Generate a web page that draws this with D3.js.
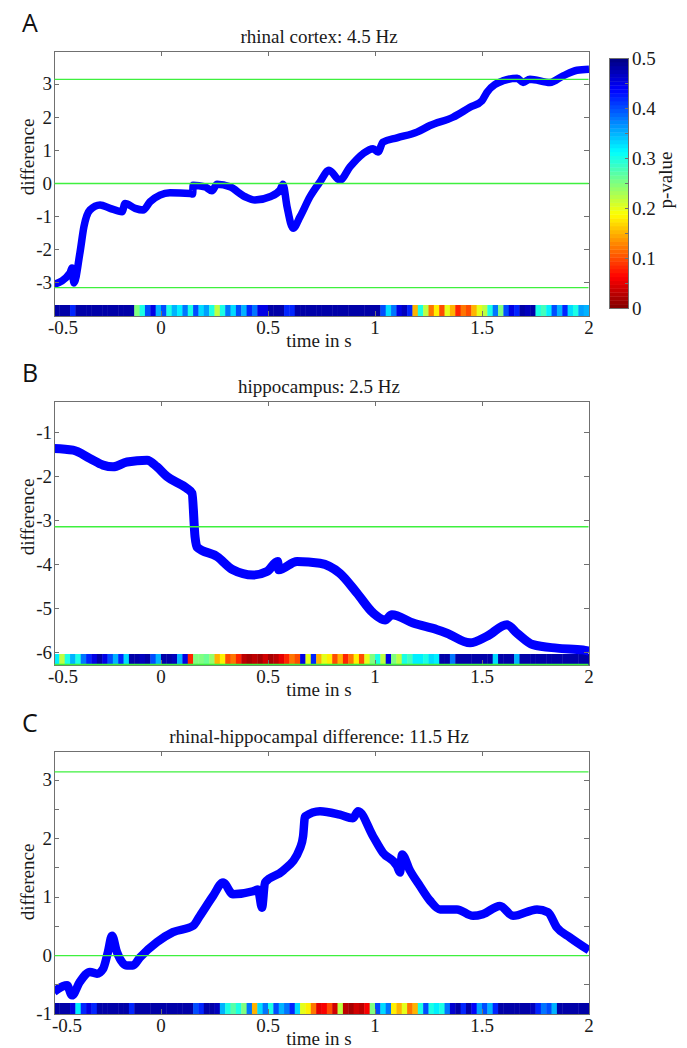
<!DOCTYPE html>
<html>
<head>
<meta charset="utf-8">
<script src="https://cdn.jsdelivr.net/npm/d3@7"></script>
<style>
  body { margin: 0; background: #fff; }
  svg { display: block; font-family: "Liberation Serif", "Times New Roman", serif; }
  .frame { fill: none; stroke: #707070; stroke-width: 1; shape-rendering: crispEdges; }
  .tick { stroke: #707070; stroke-width: 1; shape-rendering: crispEdges; }
  .ref-line { stroke: #3ef03e; stroke-width: 1.3; }
  .trace { fill: none; stroke: #0000ff; stroke-linejoin: round; stroke-linecap: butt; }
  .label { font-size: 19px; fill: #1a1a1a; }
  .letter { font-family: "Open Sans", "Liberation Sans", sans-serif; font-size: 25px; fill: #111; }
</style>
</head>
<body>
<div id="chart"></div>
<script>
// shared axis values
const xTicks = [-0.5, 0, 0.5, 1, 1.5, 2];
const binWidth = 0.025; // width of one p-value bin in s
const pMax = 0.5;
const cbTicks = [0, 0.1, 0.2, 0.3, 0.4, 0.5];

// A: rhinal cortex 4.5 Hz
const timesA = [-0.5, -0.425, -0.416, -0.407, -0.379, -0.36, -0.332, -0.285, -0.238, -0.182,
  -0.168, -0.121, -0.084, -0.051, -0.005, 0.042, 0.136, 0.148, 0.15, 0.206,
  0.238, 0.262, 0.322, 0.393, 0.439, 0.509, 0.556, 0.57, 0.589, 0.617,
  0.65, 0.696, 0.743, 0.785, 0.836, 0.883, 0.944, 0.991, 1.014, 1.037,
  1.103, 1.196, 1.257, 1.364, 1.444, 1.5, 1.523, 1.598, 1.664, 1.692,
  1.724, 1.818, 1.879, 1.944, 2.0];
const diffA = [-3.05, -2.7, -2.55, -3.0, -2.1, -1.3, -0.8, -0.65, -0.75, -0.85,
  -0.6, -0.75, -0.8, -0.55, -0.35, -0.28, -0.3, -0.32, -0.05, -0.1,
  -0.22, -0.02, -0.1, -0.4, -0.5, -0.4, -0.2, -0.02, -0.7, -1.35,
  -1.0, -0.4, 0.05, 0.4, 0.1, 0.5, 0.9, 1.05, 0.95, 1.25,
  1.38, 1.55, 1.75, 2.0, 2.3, 2.5, 2.75, 3.1, 3.18, 3.05,
  3.15, 3.05, 3.25, 3.42, 3.45];
const pA = [0.48, 0.48, 0.48, 0.42, 0.48, 0.48, 0.48, 0.48, 0.48, 0.48,
  0.48, 0.48, 0.48, 0.48, 0.48, 0.25, 0.3, 0.4, 0.45, 0.35,
  0.4, 0.3, 0.35, 0.32, 0.38, 0.3, 0.4, 0.33, 0.36, 0.3,
  0.22, 0.3, 0.38, 0.33, 0.4, 0.35, 0.42, 0.38, 0.45, 0.45,
  0.48, 0.48, 0.48, 0.42, 0.42, 0.48, 0.48, 0.48, 0.48, 0.48,
  0.48, 0.48, 0.48, 0.48, 0.48, 0.48, 0.48, 0.48, 0.48, 0.48,
  0.48, 0.4, 0.33, 0.38, 0.45, 0.47, 0.42, 0.15, 0.3, 0.22,
  0.12, 0.18, 0.1, 0.2, 0.15, 0.08, 0.12, 0.1, 0.15, 0.2,
  0.22, 0.3, 0.38, 0.25, 0.4, 0.45, 0.42, 0.48, 0.47, 0.48,
  0.3, 0.28, 0.32, 0.4, 0.35, 0.42, 0.33, 0.3, 0.36, 0.35];

// B: hippocampus 2.5 Hz
const timesB = [-0.5, -0.411, -0.332, -0.271, -0.224, -0.159, -0.065, -0.019, 0.028, 0.121,
  0.145, 0.159, 0.168, 0.262, 0.336, 0.43, 0.495, 0.545, 0.55, 0.636,
  0.743, 0.836, 0.916, 0.991, 1.047, 1.079, 1.178, 1.29, 1.336, 1.444,
  1.523, 1.617, 1.664, 1.738, 1.85, 1.972, 2.0];
const diffB = [-1.36, -1.4, -1.59, -1.74, -1.78, -1.67, -1.63, -1.78, -2.0, -2.27,
  -2.38, -3.37, -3.6, -3.82, -4.12, -4.24, -4.16, -3.93, -4.12, -3.93,
  -3.97, -4.2, -4.65, -5.1, -5.26, -5.14, -5.33, -5.48, -5.56, -5.78,
  -5.63, -5.37, -5.56, -5.82, -5.9, -5.94, -5.97];
const pB = [0.32, 0.22, 0.3, 0.35, 0.3, 0.38, 0.42, 0.45, 0.48, 0.45,
  0.4, 0.35, 0.42, 0.33, 0.48, 0.48, 0.47, 0.48, 0.4, 0.35,
  0.48, 0.48, 0.47, 0.35, 0.45, 0.08, 0.25, 0.25, 0.26, 0.24,
  0.15, 0.18, 0.1, 0.12, 0.08, 0.03, 0.02, 0.03, 0.02, 0.04,
  0.02, 0.03, 0.05, 0.08, 0.12, 0.1, 0.45, 0.2, 0.42, 0.15,
  0.2, 0.18, 0.1, 0.15, 0.08, 0.12, 0.18, 0.1, 0.2, 0.25,
  0.3, 0.22, 0.45, 0.25, 0.22, 0.3, 0.28, 0.32, 0.32, 0.3,
  0.33, 0.32, 0.48, 0.48, 0.38, 0.48, 0.48, 0.48, 0.48, 0.48,
  0.48, 0.48, 0.33, 0.48, 0.48, 0.48, 0.35, 0.48, 0.48, 0.48,
  0.48, 0.48, 0.48, 0.48, 0.48, 0.48, 0.48, 0.48, 0.48, 0.48];

// C: rhinal-hippocampal difference 11.5 Hz
const timesC = [-0.5, -0.439, -0.416, -0.379, -0.332, -0.299, -0.271, -0.248, -0.229, -0.206,
  -0.159, -0.131, -0.098, -0.019, 0.056, 0.15, 0.182, 0.243, 0.29, 0.336,
  0.43, 0.453, 0.472, 0.486, 0.57, 0.65, 0.664, 0.673, 0.743, 0.836,
  0.897, 0.921, 0.991, 1.037, 1.103, 1.117, 1.126, 1.164, 1.21, 1.257,
  1.304, 1.383, 1.458, 1.505, 1.584, 1.645, 1.757, 1.808, 1.85, 1.911, 2.0];
const diffC = [-0.62, -0.51, -0.68, -0.45, -0.28, -0.31, -0.23, 0.06, 0.34, 0.06,
  -0.17, -0.17, -0.03, 0.23, 0.4, 0.51, 0.68, 1.02, 1.25, 1.05,
  1.1, 1.13, 0.82, 1.25, 1.45, 1.84, 2.04, 2.38, 2.47, 2.41,
  2.35, 2.47, 2.04, 1.76, 1.53, 1.42, 1.73, 1.45, 1.19, 0.94,
  0.79, 0.79, 0.68, 0.71, 0.85, 0.68, 0.79, 0.74, 0.48, 0.31, 0.09];
const pC = [0.48, 0.48, 0.48, 0.45, 0.32, 0.42, 0.45, 0.42, 0.48, 0.48,
  0.48, 0.48, 0.48, 0.48, 0.42, 0.48, 0.48, 0.48, 0.48, 0.48,
  0.48, 0.48, 0.48, 0.48, 0.48, 0.48, 0.4, 0.42, 0.48, 0.48,
  0.47, 0.35, 0.3, 0.27, 0.3, 0.25, 0.38, 0.15, 0.33, 0.38,
  0.3, 0.4, 0.35, 0.38, 0.42, 0.33, 0.2, 0.18, 0.12, 0.05,
  0.06, 0.1, 0.04, 0.22, 0.03, 0.02, 0.04, 0.03, 0.06, 0.25,
  0.4, 0.33, 0.38, 0.18, 0.15, 0.2, 0.12, 0.15, 0.3, 0.4,
  0.3, 0.32, 0.3, 0.38, 0.46, 0.48, 0.42, 0.48, 0.44, 0.36,
  0.4, 0.35, 0.42, 0.48, 0.48, 0.48, 0.48, 0.48, 0.48, 0.47,
  0.42, 0.38, 0.4, 0.35, 0.48, 0.48, 0.48, 0.48, 0.48, 0.48];

const panels = [
  { letter: "A", title: "rhinal cortex: 4.5 Hz", times: timesA, diff: diffA, p: pA,
    yDomain: [-4, 4], yTicks: [-3, -2, -1, 0, 1, 2, 3], yLabeled: [-3, -2, -1, 0, 1, 2, 3],
    top: 51, bottom: 316, labelY: 157, band: 7.5, firstShift: 9 },
  { letter: "B", title: "hippocampus: 2.5 Hz", times: timesB, diff: diffB, p: pB,
    yDomain: [-2 * Math.PI, -2 * Math.PI + 6], yTicks: [-6, -5, -4, -3, -2, -1], yLabeled: [-6, -5, -4, -3, -2, -1],
    top: 401, bottom: 665, labelY: 517, band: 9, firstShift: 9 },
  { letter: "C", title: "rhinal-hippocampal difference: 11.5 Hz", times: timesC, diff: diffC, p: pC,
    yDomain: [-1, 3.5], yTicks: [-1, -0.5, 0, 0.5, 1, 1.5, 2, 2.5, 3, 3.5], yLabeled: [-1, 0, 1, 2, 3],
    top: 751, bottom: 1014, labelY: 882, band: 8.5, firstShift: 13 },
];

const marginLeft = 54;
const marginRight = 589;
const stripHeight = 11;
const tickLen = 5;

function jet(t) {
  const c = (v) => Math.max(0, Math.min(1, v)) * 255;
  return d3.rgb(c(1.5 - Math.abs(4 * t - 3)), c(1.5 - Math.abs(4 * t - 2)), c(1.5 - Math.abs(4 * t - 1)));
}
const pColor = (p) => jet(1 - p / pMax);

const svg = d3.select("#chart").append("svg").attr("width", 687).attr("height", 1048);

const x = d3.scaleLinear().domain([-0.5, 2]).range([marginLeft, marginRight]);

panels.forEach((panel, k) => {
  const y = d3.scaleLinear().domain(panel.yDomain).range([panel.bottom, panel.top]);
  const g = svg.append("g").attr("class", "panel");
  const clipId = `clip-${k}`;

  g.append("clipPath").attr("id", clipId)
    .append("rect")
    .attr("x", marginLeft).attr("y", panel.top)
    .attr("width", marginRight - marginLeft).attr("height", panel.bottom - panel.top);

  // p-value strip along the bottom of the axes
  g.append("g")
    .selectAll("rect")
    .data(panel.p)
    .join("rect")
    .attr("x", (_, i) => x(-0.5 + i * binWidth))
    .attr("width", (_, i) => x(-0.5 + (i + 1) * binWidth) - x(-0.5 + i * binWidth) + 0.4)
    .attr("y", y.range()[0] - stripHeight)
    .attr("height", stripHeight)
    .attr("fill", pColor);

  // trace
  const line = d3.line().curve(d3.curveMonotoneX).x((d) => x(d[0])).y((d) => y(d[1]));
  g.append("path")
    .attr("class", "trace")
    .attr("clip-path", `url(#${clipId})`)
    .attr("stroke-width", panel.band)
    .attr("d", line(d3.zip(panel.times, panel.diff)));

  // frame and ticks
  g.append("rect").attr("class", "frame")
    .attr("x", marginLeft).attr("y", panel.top)
    .attr("width", marginRight - marginLeft).attr("height", panel.bottom - panel.top);

  g.append("g").selectAll("line")
    .data(xTicks.flatMap((t) => [[t, panel.top, 1], [t, panel.bottom, -1]]))
    .join("line").attr("class", "tick")
    .attr("x1", (d) => x(d[0])).attr("x2", (d) => x(d[0]))
    .attr("y1", (d) => d[1]).attr("y2", (d) => d[1] + d[2] * tickLen);

  g.append("g").selectAll("line")
    .data(panel.yTicks.flatMap((t) => [[t, marginLeft, 1], [t, marginRight, -1]]))
    .join("line").attr("class", "tick")
    .attr("y1", (d) => y(d[0])).attr("y2", (d) => y(d[0]))
    .attr("x1", (d) => d[1]).attr("x2", (d) => d[1] + d[2] * tickLen);

  // reference lines at multiples of pi
  const [lo, hi] = panel.yDomain;
  const refs = d3.range(Math.ceil(lo / Math.PI - 1e-9), Math.floor(hi / Math.PI + 1e-9) + 1).map((m) => m * Math.PI);
  g.append("g").selectAll("line").data(refs).join("line")
    .attr("class", "ref-line")
    .attr("x1", marginLeft + 0.5).attr("x2", marginRight - 0.5)
    .attr("y1", (d) => Math.min(y(d), panel.bottom - 0.5)).attr("y2", (d) => Math.min(y(d), panel.bottom - 0.5));

  // tick labels
  g.append("g").selectAll("text").data(xTicks).join("text")
    .attr("class", "label")
    .attr("x", (d) => x(d)).attr("dx", (d, i) => (i === 0 ? panel.firstShift : 0))
    .attr("y", panel.bottom + 18)
    .attr("text-anchor", "middle")
    .text((d) => String(d));

  g.append("g").selectAll("text").data(panel.yLabeled).join("text")
    .attr("class", "label")
    .attr("x", marginLeft - 2).attr("y", (d) => y(d))
    .attr("dy", "0.33em")
    .attr("text-anchor", "end")
    .text((d) => String(d));

  g.append("text").attr("class", "label")
    .attr("x", 319).attr("y", panel.bottom + 31)
    .attr("text-anchor", "middle").text("time in s");

  g.append("text").attr("class", "label")
    .attr("transform", `translate(34,${panel.labelY}) rotate(-90)`)
    .attr("text-anchor", "middle").text("difference");

  g.append("text").attr("class", "label")
    .attr("x", 319).attr("y", panel.top - 8)
    .attr("text-anchor", "middle").text(panel.title);

  g.append("text").attr("class", "letter")
    .attr("x", 22).attr("y", panel.top - 19)
    .text(panel.letter);
});

// colorbar next to panel A
const cb = d3.scaleLinear().domain([0, pMax]).range([308, 58]);
const cbX = 609, cbW = 19;
const cbG = svg.append("g");
const levels = d3.range(64);
cbG.selectAll("rect").data(levels).join("rect")
  .attr("x", cbX).attr("width", cbW)
  .attr("y", (i) => cb((i + 1) * pMax / 64))
  .attr("height", (i) => cb(i * pMax / 64) - cb((i + 1) * pMax / 64) + 0.4)
  .attr("fill", (i) => pColor((i + 0.5) * pMax / 64));
cbG.append("rect").attr("class", "frame")
  .attr("x", cbX).attr("y", cb(pMax)).attr("width", cbW).attr("height", cb(0) - cb(pMax));
cbG.selectAll("line.tick").data(d3.range(0, 11).map((i) => i * 0.05)).join("line")
  .attr("class", "tick")
  .attr("x1", cbX + cbW).attr("x2", cbX + cbW - 3)
  .attr("y1", (d) => cb(d)).attr("y2", (d) => cb(d));
cbG.selectAll("text.cbl").data(cbTicks).join("text")
  .attr("class", "label cbl")
  .attr("x", cbX + cbW + 4).attr("y", (d) => cb(d)).attr("dy", "0.35em")
  .text((d) => String(d));
cbG.append("text").attr("class", "label")
  .attr("transform", `translate(672,180) rotate(-90)`)
  .attr("text-anchor", "middle").text("p-value");
</script>
</body>
</html>
